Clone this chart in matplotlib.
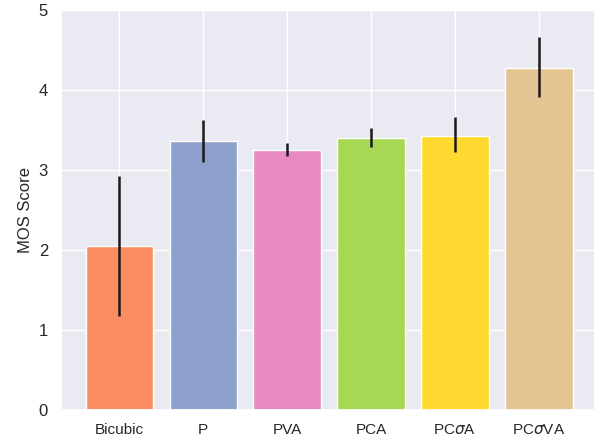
import numpy as np
import matplotlib.pyplot as plt
import seaborn as sns

sns.set_theme(style='darkgrid')
plt.rcParams['font.family'] = ['Liberation Sans', 'DejaVu Sans']

# scores moyens et bornes des barres d'erreur
methodes = ['Bicubic', 'P', 'PVA', 'PCA', 'PC$\\sigma$A', 'PC$\\sigma$VA']
mos = [2.05, 3.36, 3.25, 3.40, 3.43, 4.28]
err_bas = [1.18, 3.10, 3.18, 3.29, 3.22, 3.92]
err_haut = [2.93, 3.63, 3.34, 3.53, 3.67, 4.67]
couleurs = ['#fc8d62', '#8da0cb', '#e78ac3', '#a6d854', '#ffd92f', '#e5c494']

x = np.arange(len(methodes))
mos = np.array(mos)
yerr = np.array([mos - np.array(err_bas), np.array(err_haut) - mos])

fig = plt.figure(figsize=(6, 4.44), dpi=100)
ax = fig.add_axes([0.102, 0.077, 0.890, 0.900])
ax.bar(x, mos, width=0.8, color=couleurs, edgecolor='white', linewidth=1)
ax.errorbar(x, mos, yerr=yerr, fmt='none', ecolor='#1a1a1a', elinewidth=1.8, capsize=0)
ax.set_xticks(x)
ax.set_xticklabels(methodes, fontsize=11)
ax.set_xlim(-0.69, 5.67)
ax.set_ylim(0, 5)
ax.set_yticks(range(6))
ax.tick_params(axis='y', labelsize=12)
ax.set_ylabel('MOS Score', fontsize=12)

fig.savefig('out.png')
